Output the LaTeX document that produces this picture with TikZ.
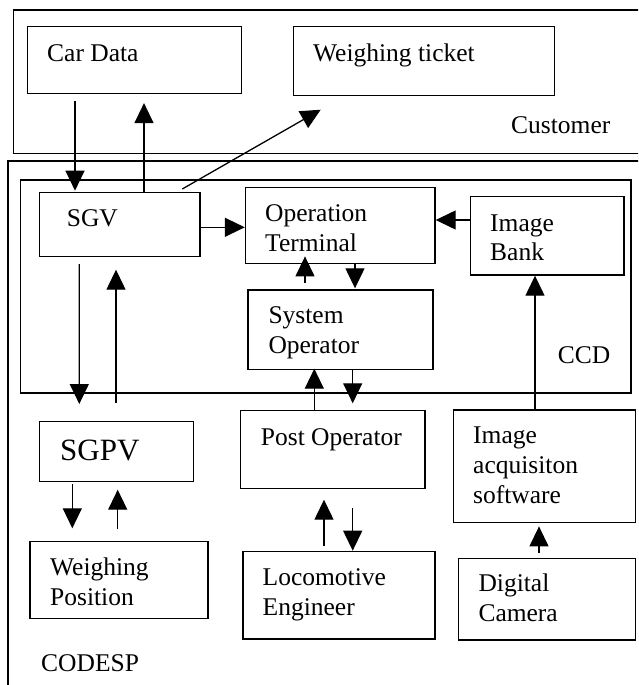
\documentclass[tikz,border=0pt]{standalone}
\usepackage{fontspec}
\setmainfont{Liberation Serif}
\usetikzlibrary{arrows.meta,calc}
\begin{document}
\begin{tikzpicture}[x=1pt,y=-1pt,
  blk/.style={draw, line width=1.4pt, rectangle, inner sep=0pt, anchor=north west},
  txt/.style={anchor=base west, inner sep=0pt, font=\fontsize{25.5}{30}\selectfont},
  bigtxt/.style={anchor=base west, inner sep=0pt, font=\fontsize{31}{36}\selectfont},
  arr/.style={line width=1.3pt, -{Triangle[length=20pt,width=19pt]}}]
\useasboundingbox (0,0) rectangle (638,685);
\clip (0,0) rectangle (638,685);
% frames
\node[blk, minimum width=640pt, minimum height=143.4pt] (customer) at (12.7,9.3) {};
\node[blk, minimum width=650pt, minimum height=540pt] (codesp) at (7.3,160.3) {};
\node[blk, minimum width=610.5pt, minimum height=213pt] (ccd) at (19.8,179.3) {};
% boxes
\node[blk, minimum width=214pt, minimum height=66.7pt] (cardata) at (26.7,26) {};
\node[blk, minimum width=261pt, minimum height=69pt] (ticket) at (293,26) {};
\node[blk, minimum width=160.5pt, minimum height=64.3pt] (sgv) at (38.9,191.7) {};
\node[blk, minimum width=189.5pt, minimum height=76pt] (ot) at (244.8,186.7) {};
\node[blk, minimum width=153.3pt, minimum height=78.3pt] (ib) at (470,196) {};
\node[blk, minimum width=185pt, minimum height=79.3pt] (sysop) at (247.3,289.3) {};
\node[blk, minimum width=154.2pt, minimum height=59.7pt] (sgpv) at (38.5,421) {};
\node[blk, minimum width=184.3pt, minimum height=77.7pt] (postop) at (240,410) {};
\node[blk, minimum width=182.3pt, minimum height=112.4pt] (ia) at (452.7,409.3) {};
\node[blk, minimum width=178pt, minimum height=77pt] (wp) at (29.3,540.7) {};
\node[blk, minimum width=192.1pt, minimum height=87.6pt] (loco) at (242.2,550.7) {};
\node[blk, minimum width=177.3pt, minimum height=81.6pt] (dc) at (457.7,557.7) {};
% texts
\node[txt] (t1) at (47,61.7) {Car Data};
\node[txt] (t2) at (313,61.7) {Weighing ticket};
\node[txt] (t3) at (511,133.3) {Customer};
\node[txt] (t4) at (66.7,226.3) {SGV};
\node[txt] (t5) at (265,221.7) {Operation};
\node[txt] (t6) at (265,251.3) {Terminal};
\node[txt] (t7) at (490,231) {Image};
\node[txt] (t8) at (490,260.7) {Bank};
\node[txt] (t9) at (268.3,323.7) {System};
\node[txt] (t10) at (268.3,353.3) {Operator};
\node[txt] (t11) at (557.6,363.3) {CCD};
\node[txt] (t12) at (260.7,445) {Post Operator};
\node[txt] (t13) at (473,443.3) {Image};
\node[txt] (t14) at (473,473.3) {acquisiton};
\node[txt] (t15) at (473,503.3) {software};
\node[bigtxt] (t16) at (60,460.7) {SGPV};
\node[txt] (t17) at (50,575) {Weighing};
\node[txt] (t18) at (50,605) {Position};
\node[txt] (t19) at (262.5,585) {Locomotive};
\node[txt] (t20) at (262.5,615) {Engineer};
\node[txt] (t21) at (478.3,591.7) {Digital};
\node[txt] (t22) at (478.3,621.7) {Camera};
\node[txt] (t23) at (41,671.7) {CODESP};
% connectors
\draw[arr] ($(cardata.south west)+(48.3,7.3)$) -- ($(sgv.north west)+(36.1,-1)$);
\draw[arr] ($(sgv.north west)+(105.1,0)$) -- ($(cardata.south west)+(117.3,9)$);
\draw[arr] ($(sgv.north west)+(143.4,-2.7)$) -- ($(ticket.south west)+(27.7,13.3)$);
\draw[arr] ($(sgv.north east)+(0,35.6)$) -- ($(ot.north west)+(0,40.6)$);
\draw[arr] ($(ib.north west)+(0,24)$) -- ($(ot.north east)+(0,33.3)$);
\draw[arr] ($(sysop.north west)+(57.7,-6)$) -- ($(ot.south west)+(60.2,-7.7)$);
\draw[arr] ($(ot.south west)+(110.2,0)$) -- ($(sysop.north west)+(107.7,-1)$);
\draw[arr] ($(sgv.south west)+(40.4,6.7)$) -- ($(sgpv.north west)+(40.8,-17)$);
\draw[arr] ($(sgpv.north west)+(77.5,-18.3)$) -- ($(sgv.south west)+(77.1,12.3)$);
\draw[arr] ($(postop.north west)+(74.3,0)$) -- ($(sysop.south west)+(67,-1.3)$);
\draw[arr] ($(sysop.south west)+(105.4,0)$) -- ($(postop.north west)+(112.7,-6.7)$);
\draw[arr] ($(ia.north west)+(82.3,0)$) -- ($(ib.south west)+(65,0)$);
\draw[arr] ($(sgpv.south west)+(33.8,2)$) -- ($(wp.north west)+(43,-12.4)$);
\draw[arr] ($(wp.north west)+(88.4,-11.4)$) -- ($(sgpv.south west)+(79.2,7.6)$);
\draw[arr] ($(loco.north west)+(81.8,-4.7)$) -- ($(postop.south west)+(84,10.6)$);
\draw[arr] ($(postop.south west)+(112.7,19)$) -- ($(loco.north west)+(110.5,0)$);
\draw[arr] ($(dc.north west)+(81.3,-4.7)$) -- ($(ia.south west)+(86.3,3.3)$);
\end{tikzpicture}
\end{document}
